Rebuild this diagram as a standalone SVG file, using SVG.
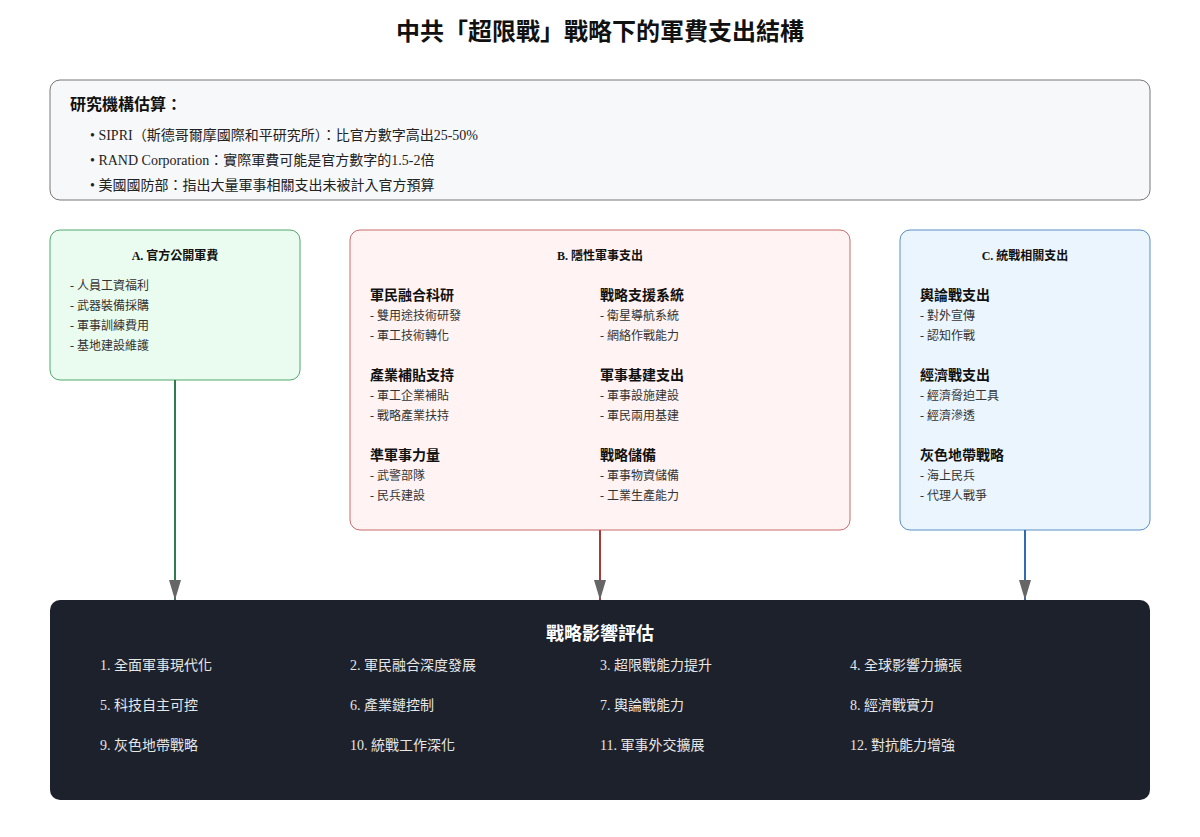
<svg xmlns="http://www.w3.org/2000/svg" width="1200" height="837" viewBox="0 0 1200 837">
<style>
.serif{font-family:"Liberation Serif","Noto Sans CJK TC",serif;}
.sans{font-family:"Liberation Sans","Noto Sans CJK TC",sans-serif;}
.title{font-size:24px;font-weight:bold;fill:#111;}
.h{font-size:16px;font-weight:bold;fill:#111;}
.b{font-size:14px;fill:#222;}
.bt{font-size:12px;font-weight:bold;fill:#111;}
.it{font-size:12px;fill:#333;}
.sh{font-size:14px;font-weight:bold;fill:#111;}
.wt{font-size:18px;font-weight:bold;fill:#fff;}
.wi{font-size:14px;fill:#e6e6e6;}
.conn{fill:none;stroke-width:2;}
</style>
<defs>
<marker id="arr" markerUnits="userSpaceOnUse" markerWidth="20" markerHeight="14" viewBox="0 0 20 14" refX="20" refY="7" orient="auto">
<path d="M0,1 L20,7 L0,13 Z" fill="#666"/>
</marker>
</defs>
<rect width="1200" height="837" fill="#fff"/>
<text class="sans title" x="600" y="40" text-anchor="middle">中共「超限戰」戰略下的軍費支出結構</text>

<g id="research">
<rect x="50" y="80" width="1100" height="120" rx="10" fill="#f7f8fa" stroke="#777" stroke-width="1"/>
<text class="sans h" x="70" y="110">研究機構估算：</text>
<text class="serif b" x="90" y="140">• SIPRI（斯德哥爾摩國際和平研究所）：比官方數字高出25-50%</text>
<text class="serif b" x="90" y="165">• RAND Corporation：實際軍費可能是官方數字的1.5-2倍</text>
<text class="serif b" x="90" y="190">• 美國國防部：指出大量軍事相關支出未被計入官方預算</text>
</g>

<g id="nodeA">
<rect x="50" y="230" width="250" height="150" rx="10" fill="#eafcf0" stroke="#4fa86c" stroke-width="1"/>
<text class="serif bt" x="175" y="260" text-anchor="middle">A. 官方公開軍費</text>
<text class="serif it" x="70" y="290">- 人員工資福利</text>
<text class="serif it" x="70" y="310">- 武器裝備採購</text>
<text class="serif it" x="70" y="330">- 軍事訓練費用</text>
<text class="serif it" x="70" y="350">- 基地建設維護</text>
</g>

<g id="nodeB">
<rect x="350" y="230" width="500" height="300" rx="10" fill="#fff3f3" stroke="#c96a6a" stroke-width="1"/>
<text class="serif bt" x="600" y="260" text-anchor="middle">B. 隱性軍事支出</text>
<text class="sans sh" x="370" y="300">軍民融合科研</text>
<text class="serif it" x="370" y="320">- 雙用途技術研發</text>
<text class="serif it" x="370" y="340">- 軍工技術轉化</text>
<text class="sans sh" x="370" y="380">產業補貼支持</text>
<text class="serif it" x="370" y="400">- 軍工企業補貼</text>
<text class="serif it" x="370" y="420">- 戰略產業扶持</text>
<text class="sans sh" x="370" y="460">準軍事力量</text>
<text class="serif it" x="370" y="480">- 武警部隊</text>
<text class="serif it" x="370" y="500">- 民兵建設</text>
<text class="sans sh" x="600" y="300">戰略支援系統</text>
<text class="serif it" x="600" y="320">- 衛星導航系統</text>
<text class="serif it" x="600" y="340">- 網絡作戰能力</text>
<text class="sans sh" x="600" y="380">軍事基建支出</text>
<text class="serif it" x="600" y="400">- 軍事設施建設</text>
<text class="serif it" x="600" y="420">- 軍民兩用基建</text>
<text class="sans sh" x="600" y="460">戰略儲備</text>
<text class="serif it" x="600" y="480">- 軍事物資儲備</text>
<text class="serif it" x="600" y="500">- 工業生產能力</text>
</g>

<g id="nodeC">
<rect x="900" y="230" width="250" height="300" rx="10" fill="#eaf5fe" stroke="#5a8fc6" stroke-width="1"/>
<text class="serif bt" x="1025" y="260" text-anchor="middle">C. 統戰相關支出</text>
<text class="sans sh" x="920" y="300">輿論戰支出</text>
<text class="serif it" x="920" y="320">- 對外宣傳</text>
<text class="serif it" x="920" y="340">- 認知作戰</text>
<text class="sans sh" x="920" y="380">經濟戰支出</text>
<text class="serif it" x="920" y="400">- 經濟脅迫工具</text>
<text class="serif it" x="920" y="420">- 經濟滲透</text>
<text class="sans sh" x="920" y="460">灰色地帶戰略</text>
<text class="serif it" x="920" y="480">- 海上民兵</text>
<text class="serif it" x="920" y="500">- 代理人戰爭</text>
</g>

<g id="nodeD">
<rect x="50" y="600" width="1100" height="200" rx="10" fill="#1d212b"/>
<text class="sans wt" x="600" y="640" text-anchor="middle">戰略影響評估</text>
<text class="serif wi" x="100" y="670">1. 全面軍事現代化</text>
<text class="serif wi" x="350" y="670">2. 軍民融合深度發展</text>
<text class="serif wi" x="600" y="670">3. 超限戰能力提升</text>
<text class="serif wi" x="850" y="670">4. 全球影響力擴張</text>
<text class="serif wi" x="100" y="710">5. 科技自主可控</text>
<text class="serif wi" x="350" y="710">6. 產業鏈控制</text>
<text class="serif wi" x="600" y="710">7. 輿論戰能力</text>
<text class="serif wi" x="850" y="710">8. 經濟戰實力</text>
<text class="serif wi" x="100" y="750">9. 灰色地帶戰略</text>
<text class="serif wi" x="350" y="750">10. 統戰工作深化</text>
<text class="serif wi" x="600" y="750">11. 軍事外交擴展</text>
<text class="serif wi" x="850" y="750">12. 對抗能力增強</text>
</g>

<g id="connectors">
<line class="conn" x1="175" y1="380" x2="175" y2="600" stroke="#2e7d4f" marker-end="url(#arr)"/>
<line class="conn" x1="600" y1="530" x2="600" y2="600" stroke="#a83a3a" marker-end="url(#arr)"/>
<line class="conn" x1="1025" y1="530" x2="1025" y2="600" stroke="#2f6db0" marker-end="url(#arr)"/>
</g>
</svg>
